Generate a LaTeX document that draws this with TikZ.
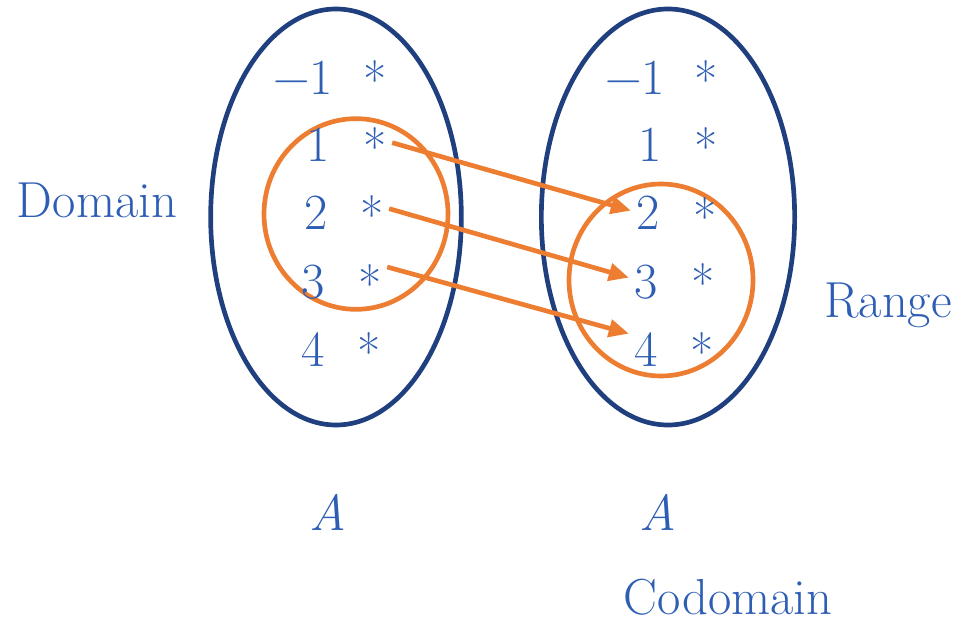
\documentclass[tikz,border=0pt]{standalone}
\usepackage{fontspec}
\usetikzlibrary{shapes.geometric,arrows.meta}
\definecolor{txtblue}{HTML}{2E5EB4}
\definecolor{setblue}{HTML}{203F7F}
\definecolor{orng}{HTML}{ED7D31}
\newcommand{\astr}{\raisebox{-0.25em}{*}}
\begin{document}
\begin{tikzpicture}[x=0.75pt,y=-0.75pt,
  lbl/.style={text=txtblue,font=\fontsize{38}{45}\selectfont,inner sep=3pt},
  setell/.style={draw=setblue,line width=3.5pt,ellipse,inner sep=0pt},
  subell/.style={draw=orng,line width=3.5pt,ellipse,inner sep=0pt},
  maparrow/.style={draw=orng,line width=3.5pt,-{Triangle[length=15pt,width=13pt]},shorten <=1pt,shorten >=1pt}]
\useasboundingbox (0,0) rectangle (961,623);
% sets
\node[setell,minimum width=188pt,minimum height=312pt] (SA) at (336,217) {};
\node[setell,minimum width=190pt,minimum height=312pt] (SB) at (668,217) {};
\node[subell,minimum width=138pt,minimum height=143pt] (OA) at (356,214) {};
\node[subell,minimum width=138pt,minimum height=144pt] (OB) at (661,280) {};
% left elements
\node[lbl] (la) at (303,78) {−1};
\node[lbl] (lb) at (318,145) {1};
\node[lbl] (lc) at (316,213) {2};
\node[lbl] (ld) at (313,282) {3};
\node[lbl] (le) at (313,350) {4};
\node[lbl] (sa) at (375,80) {\astr};
\node[lbl] (sb) at (375,147) {\astr};
\node[lbl] (sc) at (372,215) {\astr};
\node[lbl] (sd) at (370,284) {\astr};
\node[lbl] (se) at (369,352) {\astr};
% right elements
\node[lbl] (ra) at (635,78) {−1};
\node[lbl] (rb) at (650,145) {1};
\node[lbl] (rc) at (648,213) {2};
\node[lbl] (rd) at (646,282) {3};
\node[lbl] (re) at (646,350) {4};
\node[lbl] (ta) at (706,80) {\astr};
\node[lbl] (tb) at (706,147) {\astr};
\node[lbl] (tc) at (705,217) {\astr};
\node[lbl] (td) at (703,283) {\astr};
\node[lbl] (te) at (702,352) {\astr};
% arrows
\draw[maparrow] ([yshift=3.5pt]sb.east) -- ([yshift=1.5pt]rc.west);
\draw[maparrow] ([yshift=5pt]sc.east) -- ([yshift=3pt]rd.west);
\draw[maparrow] ([yshift=13pt]sd.east) -- ([yshift=12pt]re.west);
% labels
\node[lbl] (dom) at (97,200) {Domain};
\node[lbl] (rng) at (888,305) {Range};
\node[lbl] (A1) at (328,512) {\textit{A}};
\node[lbl] (A2) at (658,512) {\textit{A}};
\node[lbl] (cod) at (728,597) {Codomain};
\end{tikzpicture}
\end{document}
